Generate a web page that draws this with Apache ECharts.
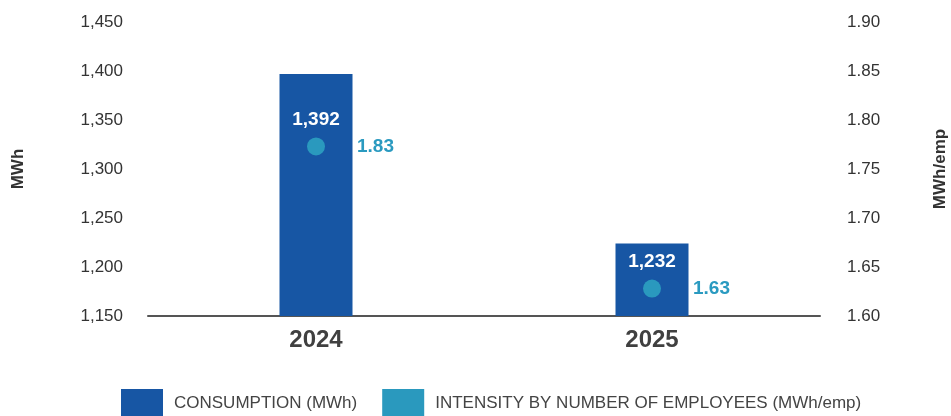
<!DOCTYPE html>
<html><head><meta charset="utf-8">
<script src="https://cdn.jsdelivr.net/npm/echarts@6/dist/echarts.min.js"></script>
<style>html,body{margin:0;padding:0;background:#fff;overflow:hidden}#c{width:951px;height:416px}</style>
</head><body><div id="c"></div>
<script>
// Categories
const years = ['2024', '2025'];
// Consumption (MWh): printed labels and bar heights as drawn in the picture
const consumptionLabels = [1392, 1232];
const consumptionBars = [1397, 1224];
// Intensity (MWh/emp): printed labels and dot heights as drawn in the picture
const intensityLabels = [1.83, 1.63];
const intensityDots = [1.773, 1.628];
// Axis ranges
const leftAxisRange = [1150, 1450, 50];
const rightAxisRange = [1.60, 1.90, 0.05];

const FONT = "'Liberation Sans', Arial, Helvetica, sans-serif";
const chart = echarts.init(document.getElementById('c'), null, {renderer: 'canvas', width: 951, height: 416});
chart.setOption({
  animation: false,
  textStyle: {fontFamily: FONT},
  grid: {left: 148, right: 131, top: 22, bottom: 100, containLabel: false, outerBoundsMode: 'none'},
  legend: {
    data: ['CONSUMPTION (MWh)', 'INTENSITY BY NUMBER OF EMPLOYEES (MWh/emp)'],
    left: 121, top: 389, padding: 0,
    icon: 'rect', itemWidth: 42, itemHeight: 28, itemGap: 25,
    textStyle: {fontFamily: FONT, fontSize: 17, color: '#444', padding: [0, 0, 0, 6]},
    selectedMode: false
  },
  xAxis: {
    type: 'category', data: years,
    axisLine: {lineStyle: {color: '#555', width: 2}},
    axisTick: {show: false},
    axisLabel: {fontFamily: FONT, fontSize: 24, fontWeight: 'bold', color: '#404040', margin: 12}
  },
  yAxis: [{
    type: 'value', min: leftAxisRange[0], max: leftAxisRange[1], interval: leftAxisRange[2],
    name: 'MWh', nameLocation: 'middle', nameRotate: 90, nameGap: 121,
    nameTextStyle: {fontFamily: FONT, fontSize: 17, fontWeight: 'bold', color: '#333'},
    axisLine: {show: false}, axisTick: {show: false}, splitLine: {show: false},
    axisLabel: {fontFamily: FONT, fontSize: 17, color: '#333', margin: 25,
      formatter: v => v.toLocaleString('en-US')}
  }, {
    type: 'value', min: rightAxisRange[0], max: rightAxisRange[1], interval: rightAxisRange[2],
    name: 'MWh/emp', nameLocation: 'middle', nameRotate: 90, nameGap: 112,
    nameTextStyle: {fontFamily: FONT, fontSize: 17, fontWeight: 'bold', color: '#333'},
    axisLine: {show: false}, axisTick: {show: false}, splitLine: {show: false},
    axisLabel: {fontFamily: FONT, fontSize: 17, color: '#333', margin: 27,
      formatter: v => v.toFixed(2)}
  }],
  series: [{
    name: 'CONSUMPTION (MWh)', type: 'bar', yAxisIndex: 0,
    data: consumptionBars, barWidth: 73,
    itemStyle: {color: '#1756A4'}
  }, {
    name: 'INTENSITY BY NUMBER OF EMPLOYEES (MWh/emp)', type: 'scatter', yAxisIndex: 1,
    data: intensityDots, symbol: 'circle', symbolSize: 18,
    itemStyle: {color: '#2A99BE', opacity: 1},
    label: {show: true, position: 'right', distance: 32,
      fontFamily: FONT, fontSize: 19, fontWeight: 'bold', color: '#2A9AC0',
      formatter: p => intensityLabels[p.dataIndex].toFixed(2)},
    z: 3
  }, {
    name: 'consumption-labels', type: 'scatter', yAxisIndex: 1,
    data: intensityDots, symbolSize: 18, silent: true,
    itemStyle: {color: 'rgba(0,0,0,0)'},
    label: {show: true, position: 'top', distance: 8,
      fontFamily: FONT, fontSize: 19, fontWeight: 'bold', color: '#ffffff', opacity: 1,
      formatter: p => consumptionLabels[p.dataIndex].toLocaleString('en-US')},
    z: 4
  }]
});
</script></body></html>
